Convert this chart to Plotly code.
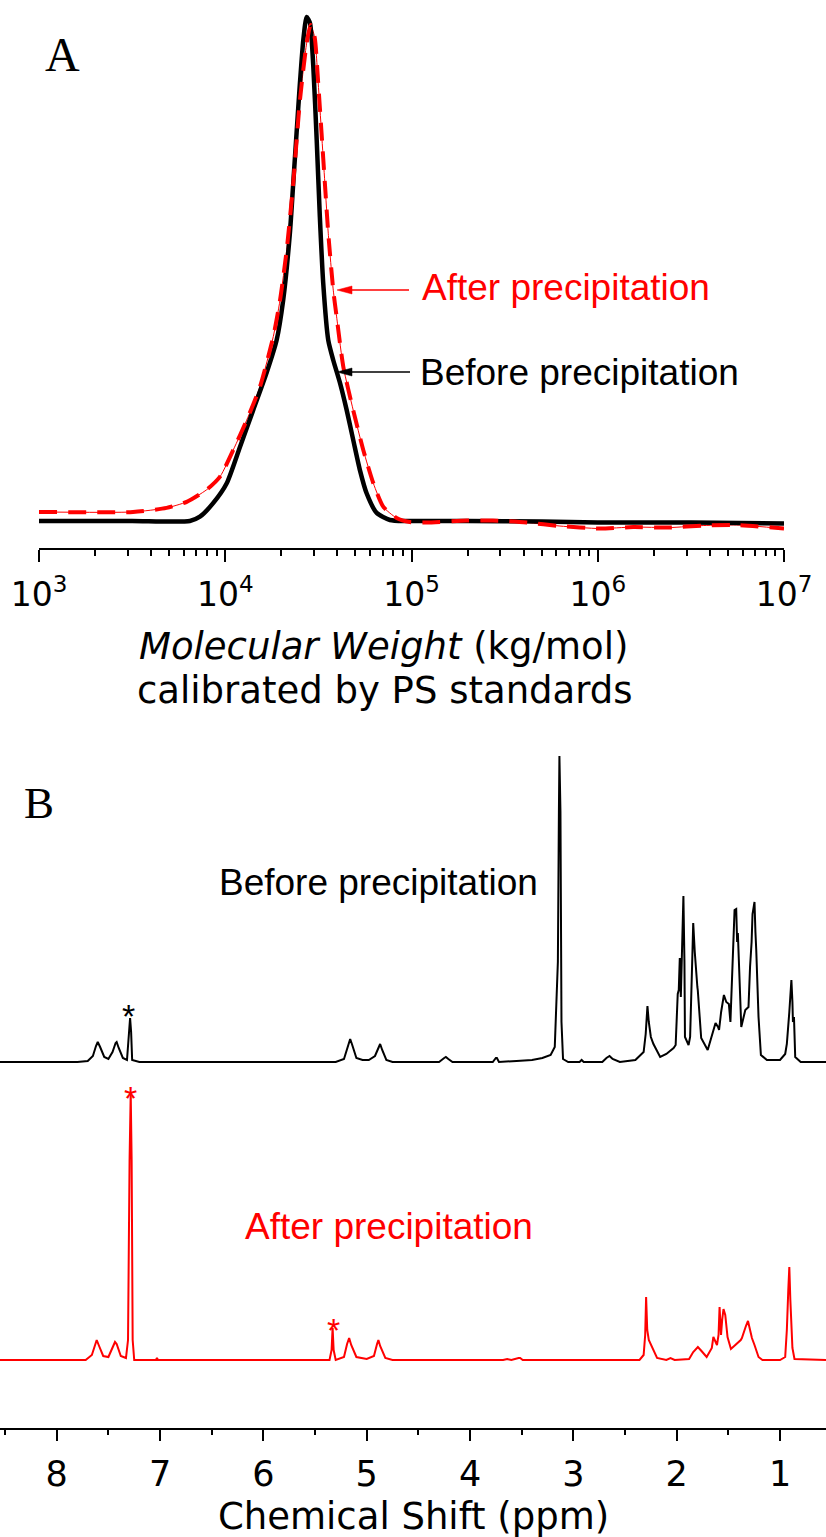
import plotly.graph_objects as go
import math

W, H = 826, 1537

# ---------------- Panel A : GPC traces ----------------
# x: log10(molecular weight), y: normalised detector signal
gpc_before_logm = [3.0, 3.5, 3.81, 3.864, 3.936, 4.008, 4.079, 4.15, 4.222, 4.276, 4.311,
                   4.347, 4.365, 4.383, 4.401, 4.419, 4.437, 4.455, 4.473, 4.491, 4.508,
                   4.526, 4.553, 4.58, 4.616, 4.652, 4.687, 4.723, 4.759, 4.813, 4.884,
                   4.974, 5.3, 5.7, 6.0, 6.5, 7.0]
gpc_before_signal = [0.0, 0.0, 0.0, 0.0085, 0.036, 0.075, 0.147, 0.22, 0.294, 0.359, 0.438,
                     0.571, 0.67, 0.77, 0.869, 0.954, 1.0, 0.988, 0.90, 0.756, 0.603,
                     0.472, 0.359, 0.319, 0.274, 0.22, 0.161, 0.101, 0.055, 0.016, 0.002,
                     0.0, 0.0, -0.001, -0.003, -0.003, -0.005]

gpc_after_logm = [3.0, 3.505, 3.685, 3.793, 3.9, 3.972, 4.043, 4.115, 4.186, 4.258, 4.294,
                  4.33, 4.365, 4.401, 4.437, 4.458, 4.48, 4.499, 4.517, 4.535, 4.553,
                  4.58, 4.598, 4.634, 4.687, 4.741, 4.795, 4.849, 4.92, 4.991, 5.081,
                  5.296, 5.437, 5.618, 5.797, 6.011, 6.19, 6.387, 6.566, 6.745, 7.0]
gpc_after_signal = [0.018, 0.018, 0.026, 0.038, 0.062, 0.088, 0.141, 0.2, 0.266, 0.366, 0.438,
                    0.538, 0.67, 0.835, 0.948, 0.984, 0.96, 0.869, 0.77, 0.67, 0.571,
                    0.458, 0.405, 0.306, 0.22, 0.141, 0.075, 0.028, 0.006, -0.002, -0.003,
                    0.001, 0.001, -0.003, -0.01, -0.015, -0.012, -0.013, -0.009, -0.008, -0.015]

gpc_tick_exponents = [3, 4, 5, 6, 7]
gpc_tick_labels = ["10<sup>3</sup>", "10<sup>4</sup>", "10<sup>5</sup>", "10<sup>6</sup>", "10<sup>7</sup>"]

# ---------------- Panel B : 1H NMR spectra ----------------
nmr_before_ppm = [8.55, 7.80, 7.70, 7.65, 7.62, 7.603, 7.58, 7.54, 7.50, 7.46, 7.43, 7.42, 7.40,
                  7.36, 7.32, 7.30, 7.29, 7.28, 7.27, 7.20, 5.30, 5.22, 5.18, 5.16, 5.14, 5.10,
                  5.04, 4.98, 4.92, 4.88, 4.87, 4.85, 4.81, 4.75, 4.30, 4.25, 4.234, 4.21, 4.17,
                  3.78, 3.75, 3.74, 3.72, 3.55, 3.40, 3.30, 3.22, 3.18, 3.15, 3.14, 3.135, 3.125,
                  3.115, 3.10, 3.05, 2.94, 2.92, 2.90, 2.72, 2.68, 2.65, 2.62, 2.55, 2.40, 2.32,
                  2.30, 2.29, 2.283, 2.27, 2.25, 2.225, 2.18, 2.16, 2.10, 2.03, 2.01, 1.99, 1.98,
                  1.97, 1.96, 1.945, 1.935, 1.925, 1.92, 1.885, 1.87, 1.85, 1.84, 1.825, 1.815,
                  1.80, 1.796, 1.763, 1.70, 1.66, 1.624, 1.60, 1.59, 1.57, 1.543, 1.52, 1.495,
                  1.48, 1.46, 1.44, 1.424, 1.415, 1.408, 1.395, 1.375, 1.336, 1.32, 1.305, 1.29,
                  1.275, 1.266, 1.247, 1.238, 1.23, 1.208, 1.185, 1.127, 1.0, 0.95, 0.934, 0.91,
                  0.89, 0.88, 0.875, 0.865, 0.853, 0.80, 0.555]
nmr_before_int = [0, 0, 1, 6, 16, 20, 15, 5, 3, 10, 19, 20, 14,
                  4, 2, 30, 44, 30, 2, 0, 0, 3, 16, 23, 17, 4,
                  2, 2, 6, 17, 18, 12, 2, 0, 0, 4, 5, 3, 0,
                  0, 4, 4, 0, 1, 2, 4, 7, 15, 100, 250, 306, 250,
                  40, 3, 0, 0, 2, 0, 0, 4, 6, 3, 0, 2, 10,
                  28, 40, 56, 40, 25, 18, 8, 5, 8, 14, 17, 68, 72,
                  104, 65, 120, 166, 100, 25, 17, 25, 100, 139, 110, 92,
                  75, 72, 24, 12, 25, 39, 35, 32, 50, 67, 60, 58,
                  40, 100, 152, 153, 120, 129, 95, 35, 52, 54, 55, 95,
                  120, 148, 160, 130, 112, 45, 7, 2, 2, 8, 18, 50,
                  82, 60, 40, 45, 5, 0, 0]

nmr_after_ppm = [8.55, 7.72, 7.66, 7.63, 7.613, 7.59, 7.55, 7.50, 7.46, 7.436, 7.42, 7.38, 7.33,
                 7.31, 7.295, 7.284, 7.275, 7.265, 7.25, 7.04, 7.03, 7.02, 5.36, 5.34, 5.33, 5.32,
                 5.30, 5.22, 5.19, 5.17, 5.15, 5.10, 5.00, 4.93, 4.90, 4.887, 4.87, 4.82, 4.75,
                 3.68, 3.64, 3.60, 3.53, 3.515, 3.49, 2.36, 2.32, 2.305, 2.296, 2.285, 2.27, 2.24,
                 2.19, 2.10, 2.06, 2.02, 1.88, 1.84, 1.795, 1.76, 1.71, 1.66, 1.645, 1.61, 1.595,
                 1.585, 1.575, 1.571, 1.56, 1.547, 1.53, 1.52, 1.508, 1.475, 1.417, 1.38, 1.369,
                 1.346, 1.33, 1.31, 1.29, 1.272, 1.247, 1.208, 1.17, 1.0, 0.95, 0.934, 0.92, 0.91,
                 0.90, 0.88, 0.86, 0.555]
nmr_after_int = [0, 0, 5, 16, 20, 14, 4, 3, 12, 18, 16, 4, 2,
                 20, 200, 267, 200, 20, 0, 0, 2, 0, 0, 10, 32, 10,
                 0, 3, 16, 22, 15, 3, 1, 4, 16, 20, 14, 2, 0,
                 0, 1, 0, 2, 2, 0, 0, 5, 25, 63, 30, 20, 13,
                 2, 0, 2, 0, 1, 8, 13, 9, 3, 12, 23, 15, 25,
                 53, 30, 25, 40, 51, 45, 35, 23, 11, 16, 20, 22,
                 30, 34, 39, 30, 22, 15, 3, 0, 0, 3, 30, 70, 93,
                 60, 12, 1, 0]

nmr_ticks = [8, 7, 6, 5, 4, 3, 2, 1]
nmr_before_offset = 298


def px(x):
    return x / W


def py(y):
    return 1 - y / H


fig = go.Figure()

# Panel A traces
fig.add_trace(go.Scatter(x=gpc_after_logm, y=gpc_after_signal, mode="lines",
                         line=dict(color="red", width=1, shape="spline", smoothing=0.6),
                         xaxis="x", yaxis="y", showlegend=False))
fig.add_trace(go.Scatter(x=gpc_before_logm, y=gpc_before_signal, mode="lines",
                         line=dict(color="black", width=4.5, shape="spline", smoothing=0.6),
                         xaxis="x", yaxis="y", showlegend=False))
fig.add_trace(go.Scatter(x=gpc_after_logm, y=gpc_after_signal, mode="lines",
                         line=dict(color="red", width=4, dash="18px,11px", shape="spline",
                                   smoothing=0.6),
                         xaxis="x", yaxis="y", showlegend=False))

# Panel B traces
fig.add_trace(go.Scatter(x=nmr_before_ppm, y=[v + nmr_before_offset for v in nmr_before_int],
                         mode="lines", line=dict(color="black", width=2),
                         xaxis="x2", yaxis="y2", showlegend=False))
fig.add_trace(go.Scatter(x=nmr_after_ppm, y=nmr_after_int,
                         mode="lines", line=dict(color="red", width=2),
                         xaxis="x2", yaxis="y2", showlegend=False))

minor_a = [math.log10(k * 10 ** d) for d in range(3, 7) for k in range(2, 10)]

axis_font = "DejaVu Sans"
fig.update_layout(
    template="none",
    width=W, height=H,
    margin=dict(l=0, r=0, t=0, b=0, pad=0, autoexpand=False),
    paper_bgcolor="white", plot_bgcolor="white",
    xaxis=dict(domain=[px(39), px(784)], range=[3, 7], anchor="y", automargin=False,
               showline=True, linecolor="black", linewidth=2,
               ticks="outside", ticklen=12, tickwidth=2, tickcolor="black",
               tickmode="array", tickvals=gpc_tick_exponents, ticktext=gpc_tick_labels,
               tickfont=dict(family=axis_font, size=33, color="black"),
               ticklabelstandoff=4,
               minor=dict(tickmode="array", tickvals=minor_a, ticks="outside",
                          ticklen=6, tickwidth=2, tickcolor="black"),
               showgrid=False, zeroline=False),
    yaxis=dict(domain=[py(548), 1], range=[(521 - 548) / 504, 521 / 504], anchor="x",
               automargin=False, visible=False),
    xaxis2=dict(domain=[0, 1], range=[8.549, 0.555], anchor="y2", automargin=False,
                showline=True, linecolor="black", linewidth=2,
                ticks="outside", ticklen=11, tickwidth=2, tickcolor="black",
                tickmode="array", tickvals=nmr_ticks,
                tickfont=dict(family=axis_font, size=35, color="black"),
                ticklabelstandoff=3,
                minor=dict(tickmode="linear", tick0=0.5, dtick=1, ticks="outside",
                           ticklen=5, tickwidth=2, tickcolor="black"),
                showgrid=False, zeroline=False),
    yaxis2=dict(domain=[py(1428), py(740)], range=[1360 - 1428, 1360 - 740], anchor="x2",
                automargin=False, visible=False),
)

ann = []


def text(x, y, s, size, color="black", family="Liberation Sans", xanchor="left"):
    ann.append(dict(x=px(x), y=py(y), xref="paper", yref="paper", text=s, showarrow=False,
                    xanchor=xanchor, yanchor="middle",
                    font=dict(family=family, size=size, color=color)))


# panel letters
text(62, 54, "A", 48, family="Liberation Serif", xanchor="center")
text(39, 803, "B", 45, family="Liberation Serif", xanchor="center")

# panel A labels
text(420, 287, "After precipitation", 37, color="red")
text(418, 372, "Before precipitation", 37)
text(383, 646, "<i>Molecular Weight</i> (kg/mol)", 37, family=axis_font, xanchor="center")
text(385, 690, "calibrated by PS standards", 37, family=axis_font, xanchor="center")

# panel B labels
text(217, 882, "Before precipitation", 37)
text(243, 1226, "After precipitation", 37, color="red")
text(413, 1516, "Chemical Shift (ppm)", 37, family=axis_font, xanchor="center")
text(128, 1016, "*", 34, xanchor="center")
text(130, 1098, "*", 34, color="red", xanchor="center")
text(333, 1330, "*", 34, color="red", xanchor="center")

fig.update_layout(annotations=ann)

# arrows in panel A
shapes = []
for (tip_x, tail_x, yy, col) in [(337, 409, 290, "red"), (337, 410, 372, "black")]:
    shapes.append(dict(type="line", xref="paper", yref="paper",
                       x0=px(tip_x + 12), x1=px(tail_x), y0=py(yy), y1=py(yy),
                       line=dict(color=col, width=1.3)))
    path = "M {} {} L {} {} L {} {} Z".format(px(tip_x), py(yy), px(tip_x + 15), py(yy - 4),
                                               px(tip_x + 15), py(yy + 4))
    shapes.append(dict(type="path", xref="paper", yref="paper", path=path,
                       fillcolor=col, line=dict(color=col, width=0.5)))
fig.update_layout(shapes=shapes)

fig.write_html("out.html")
